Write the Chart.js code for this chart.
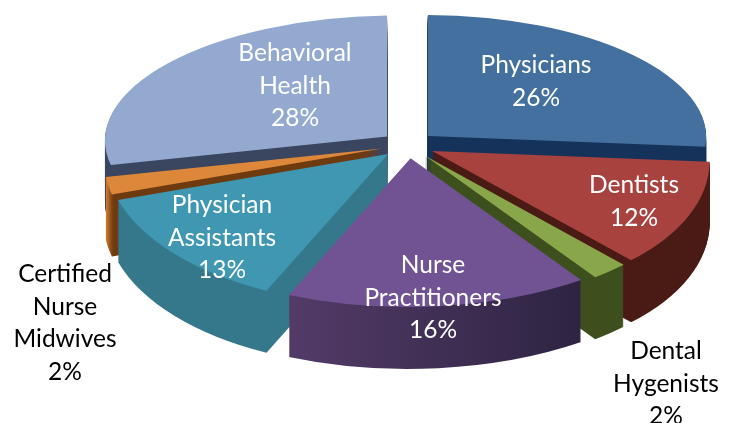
<!DOCTYPE html>
<html>
<head>
<meta charset="utf-8">
<style>
  html, body { margin: 0; padding: 0; background: #fff; }
  canvas { display: block; }
</style>
<script src="https://cdn.jsdelivr.net/npm/chart.js@4"></script>
</head>
<body>
<canvas id="chart" width="734" height="423"></canvas>
<script>
// Workforce mix, clockwise from 12 o'clock
const categories = ['Physicians', 'Dentists', 'Dental Hygenists', 'Nurse Practitioners', 'Physician Assistants', 'Certified Nurse Midwives', 'Behavioral Health'];
const shares = [26, 12, 2, 16, 13, 2, 28];

const topColors = ['#44709f', '#a7423f', '#89a64a', '#715394', '#3f97b1', '#dd873a', '#93a9d0'];
const wallLeft = ['#15325a', '#4a1a14', '#3e4f1e', '#533b68', '#35788c', '#d8802f', '#3a4560'];
const wallRight = ['#15325a', '#4a1a14', '#3e4f1e', '#2e2442', '#35788c', '#6e3a10', '#3a4560'];
const wallBreak = [1, 1, 1, 1, 1, 0.04, 1];

// Label placement: centre x and first line middle, in page pixels
const labelX = [536, 634, 666, 433, 222, 65, 295];
const labelY = [65, 185, 351, 265, 205, 274, 53];
const labelColors = ['#fff', '#fff', '#000', '#fff', '#fff', '#000', '#fff'];

// Fake 3D geometry (Chart.js only knows flat pies)
const CENTER_X = 408, CENTER_Y = 145;
const RADIUS = 276, TILT = 0.492, PERSPECTIVE = 0.0008;
const EXPLODE = 27, DEPTH = 62;
const LINE_HEIGHT = 32.7;

// where a point on the rim lands, relative to the slice apex
function project(angle) {
  const x = RADIUS * Math.cos(angle);
  const y = RADIUS * TILT * Math.sin(angle);
  const f = 1 + PERSPECTIVE * y;
  return [x * f, y * f];
}

// Canvas has affine transforms only, so each wedge gets its own matrix that
// puts both of its rim corners on the projected spots.
function sliceFrame(arc) {
  const a0 = arc.startAngle, a1 = arc.endAngle;
  const mid = (a0 + a1) / 2;
  const r = arc.outerRadius;
  const c0 = Math.cos(a0), s0 = Math.sin(a0), c1 = Math.cos(a1), s1 = Math.sin(a1);
  const p0 = project(a0), p1 = project(a1);
  const det = c0 * s1 - c1 * s0;
  return {
    a: (p0[0] * s1 - p1[0] * s0) / det / r,
    b: (p0[1] * s1 - p1[1] * s0) / det / r,
    c: (p1[0] * c0 - p0[0] * c1) / det / r,
    d: (p1[1] * c0 - p0[1] * c1) / det / r,
    x: CENTER_X + Math.cos(mid) * EXPLODE,
    y: CENTER_Y + Math.sin(mid) * EXPLODE * TILT,
  };
}

function drawSlice(ctx, arc, frame, dy, fill) {
  const base = arc.options;
  const opts = Object.create(base);
  opts.backgroundColor = fill;
  arc.options = opts;
  ctx.save();
  ctx.translate(frame.x, frame.y + dy);
  ctx.transform(frame.a, frame.b, frame.c, frame.d, 0, 0);
  ctx.translate(-arc.x, -arc.y);
  arc.draw(ctx);
  ctx.restore();
  arc.options = base;
}

function wallFill(ctx, arc, i) {
  // gradient runs across the slice's own width, in the arc's local coordinates
  const xs = [0, 0.25, 0.5, 0.75, 1].map(t => Math.cos(arc.startAngle + (arc.endAngle - arc.startAngle) * t));
  xs.push(0);
  const x0 = arc.x + Math.min(...xs) * arc.outerRadius;
  const x1 = arc.x + Math.max(...xs) * arc.outerRadius;
  const g = ctx.createLinearGradient(x0, 0, x1, 0);
  g.addColorStop(0, wallLeft[i]);
  g.addColorStop(wallBreak[i], wallRight[i]);
  return g;
}

const pie3d = {
  id: 'pie3d',
  beforeDatasetDraw(chart, args) {
    const { ctx } = chart;
    const arcs = args.meta.data.map((arc, i) => ({ arc, i }));
    // painter's order: back slices first
    arcs.sort((a, b) => {
      const ma = (a.arc.startAngle + a.arc.endAngle) / 2;
      const mb = (b.arc.startAngle + b.arc.endAngle) / 2;
      return Math.sin(ma) - Math.sin(mb);
    });
    arcs.forEach(({ arc, i }) => {
      const frame = sliceFrame(arc);
      const side = wallFill(ctx, arc, i);
      for (let d = DEPTH; d > 0; d--) drawSlice(ctx, arc, frame, d, side);
      drawSlice(ctx, arc, frame, 0, topColors[i]);
    });
    return false;
  },
  afterDraw(chart) {
    const { ctx } = chart;
    ctx.save();
    ctx.font = '24.5px Lato';
    ctx.textAlign = 'center';
    ctx.textBaseline = 'middle';
    categories.forEach((name, i) => {
      const lines = name.split(' ').concat(shares[i] + '%');
      ctx.fillStyle = labelColors[i];
      lines.forEach((line, n) => ctx.fillText(line, labelX[i], labelY[i] + n * LINE_HEIGHT));
    });
    ctx.restore();
  },
};

new Chart(document.getElementById('chart'), {
  type: 'pie',
  data: {
    labels: categories,
    datasets: [{ data: shares, backgroundColor: topColors, borderWidth: 0 }],
  },
  options: {
    responsive: false,
    animation: false,
    layout: { padding: 0 },
    plugins: { legend: { display: false }, tooltip: { enabled: false } },
  },
  plugins: [pie3d],
});
</script>
</body>
</html>
